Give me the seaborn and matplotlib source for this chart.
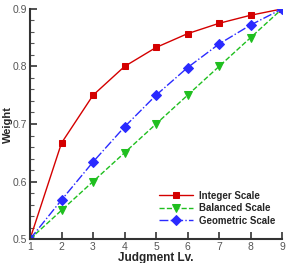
import matplotlib
matplotlib.use("Agg")
import matplotlib.pyplot as plt
import pandas as pd
import seaborn as sns
from matplotlib.ticker import MultipleLocator

levels = [1, 2, 3, 4, 5, 6, 7, 8, 9]
integer_scale = [0.5, 0.667, 0.75, 0.8, 0.833, 0.857, 0.875, 0.889, 0.9]
balanced_scale = [0.5, 0.55, 0.6, 0.65, 0.7, 0.75, 0.8, 0.85, 0.9]
geometric_scale = [0.5, 0.568, 0.634, 0.695, 0.75, 0.798, 0.839, 0.872, 0.9]


def main():
    sns.set_theme(style="ticks")
    plt.rcParams["font.family"] = ["Liberation Sans", "DejaVu Sans"]

    fig = plt.figure(figsize=(2.86, 2.63), dpi=100)
    ax = fig.add_axes([0.105, 0.091, 0.881, 0.875])

    series = [
        ("Integer Scale", integer_scale, "#d40000", "s", "-", 5),
        ("Balanced Scale", balanced_scale, "#1fbf1f", "v", "--", 6),
        ("Geometric Scale", geometric_scale, "#2a2aff", "D", "-.", 5),
    ]
    for name, vals, color, marker, ls, ms in series:
        df = pd.DataFrame({"level": levels, "weight": vals})
        sns.lineplot(
            data=df, x="level", y="weight", ax=ax, color=color,
            marker=marker, markersize=ms, linestyle=ls, linewidth=1.0,
            markeredgecolor=color, label=name,
        )

    ax.set_xlim(1, 9)
    ax.set_ylim(0.5, 0.9)
    ax.xaxis.set_major_locator(MultipleLocator(1))
    ax.yaxis.set_major_locator(MultipleLocator(0.1))
    ax.yaxis.set_minor_locator(MultipleLocator(0.02))
    ax.tick_params(axis="both", which="major", direction="in", length=5, width=1.2,
                   colors="#333333", labelcolor="#555555", labelsize=7.5, pad=2)
    ax.tick_params(axis="y", which="minor", direction="in", length=3, width=0.8, colors="#555555")
    for side in ["left", "bottom"]:
        ax.spines[side].set_linewidth(1.5)
        ax.spines[side].set_color("#333333")
    ax.spines["top"].set_visible(False)
    ax.spines["right"].set_visible(False)

    ax.set_xlabel("Judgment Lv.", fontsize=8.5, fontweight="bold", labelpad=0)
    ax.set_ylabel("Weight", fontsize=8, fontweight="bold", labelpad=0)

    ax.legend(loc="lower right", frameon=False, prop={"size": 7, "weight": "bold"},
              handlelength=3.5, handletextpad=0.7, labelspacing=0.25,
              bbox_to_anchor=(1.01, 0.02))

    fig.savefig("out.png", dpi=100)
    plt.close(fig)


if __name__ == "__main__":
    main()
